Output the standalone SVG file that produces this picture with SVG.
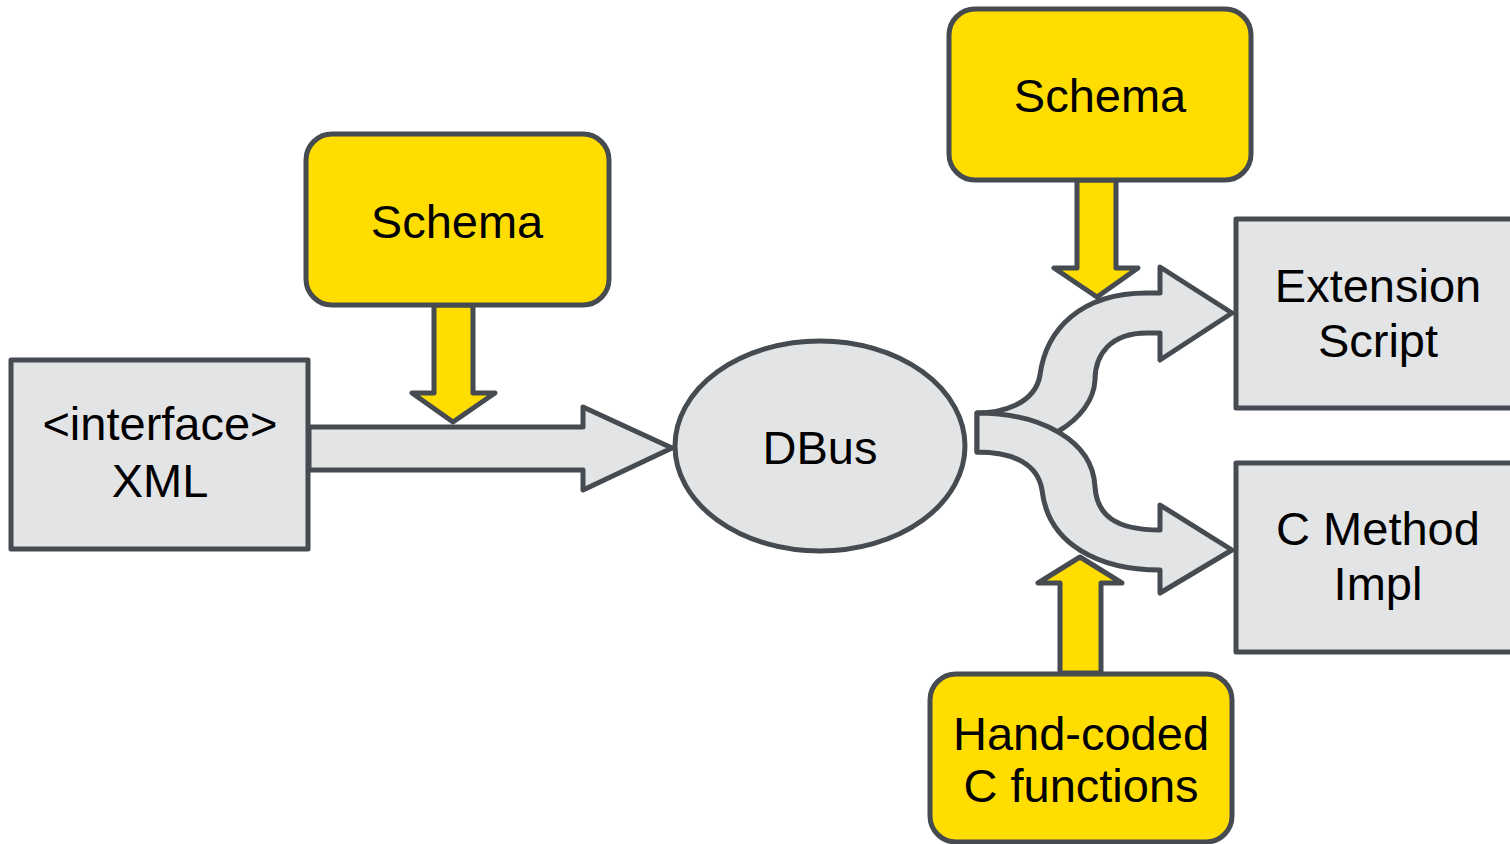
<svg xmlns="http://www.w3.org/2000/svg" width="1510" height="844" viewBox="0 0 1510 844">
<style>
.g{fill:#e3e4e6;stroke:#454b50;stroke-width:5;stroke-linejoin:round}
.y{fill:#ffdd00;stroke:#454b50;stroke-width:5;stroke-linejoin:round}
.t{font-family:"Liberation Sans",Arial,sans-serif;font-size:47px;fill:#000;text-anchor:middle}
</style>
<rect width="1510" height="844" fill="#fff"/>
<g id="connectors">
<polygon class="g" points="309,427 583,427 583,407 672,448 583,490 583,470 309,470"/>
<path id="curve-up" class="g" d="M977,413 C1000,413 1035,405 1040,375 C1046,330 1080,293 1147,293 L1160,293 L1160,267 L1232,313 L1160,360 L1160,333 L1147,333 C1110,333 1095,355 1095,380 C1093,420 1040,452 977,452 Z"/>
<path id="curve-down" class="g" d="M977,413 C1040,413 1093,440 1095,487 C1097,515 1115,530 1160,530 L1160,505 L1232,550 L1160,593 L1160,570 C1100,570 1048,545 1042,490 C1038,465 1015,452 977,452 Z"/>
<polygon class="y" points="434,305 473,305 473,393 495,393 453,422 412,393 434,393"/>
<polygon class="y" points="1077,180 1116,180 1116,268 1138,268 1097,297 1054,268 1077,268"/>
<polygon class="y" points="1060,673 1101,673 1101,583 1122,583 1080,557 1038,583 1060,583"/>
</g>
<g id="xml">
<rect class="g" x="11" y="360" width="297" height="189"/>
<text class="t" x="160" y="440">&lt;interface&gt;</text>
<text class="t" x="160" y="497">XML</text>
</g>
<g id="schema1">
<rect class="y" x="306" y="134" width="303" height="171" rx="26"/>
<text class="t" x="457" y="238">Schema</text>
</g>
<g id="dbus">
<ellipse class="g" cx="820" cy="446" rx="145" ry="105"/>
<text class="t" x="820" y="464">DBus</text>
</g>
<g id="schema2">
<rect class="y" x="949" y="9" width="302" height="171" rx="26"/>
<text class="t" x="1100" y="112">Schema</text>
</g>
<g id="ext">
<rect class="g" x="1236" y="219" width="290" height="189"/>
<text class="t" x="1378" y="302">Extension</text>
<text class="t" x="1378" y="357">Script</text>
</g>
<g id="cmethod">
<rect class="g" x="1236" y="463" width="290" height="189"/>
<text class="t" x="1378" y="545">C Method</text>
<text class="t" x="1378" y="600">Impl</text>
</g>
<g id="handcoded">
<rect class="y" x="930" y="674" width="302" height="168" rx="26"/>
<text class="t" x="1081" y="750">Hand-coded</text>
<text class="t" x="1081" y="802">C functions</text>
</g>
</svg>
